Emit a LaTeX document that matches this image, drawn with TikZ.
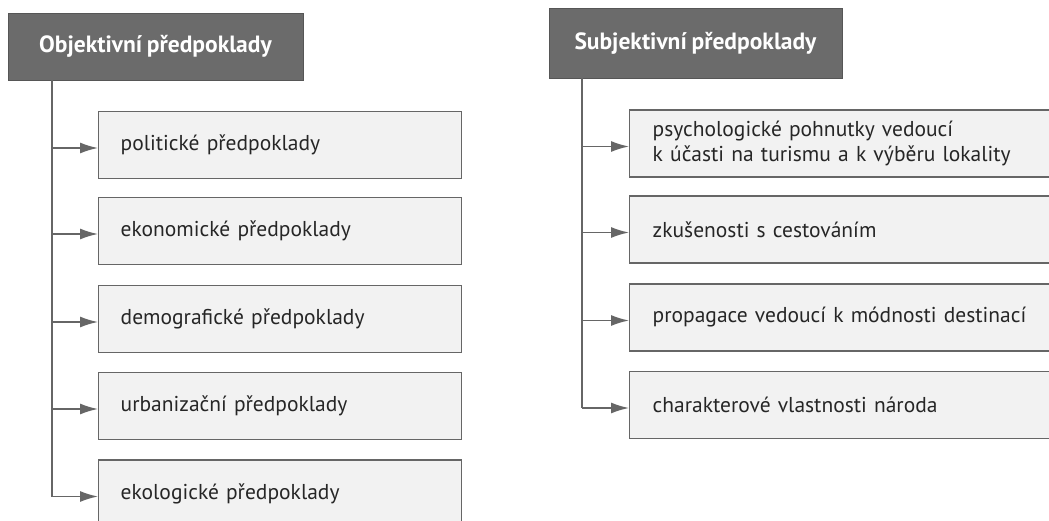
\documentclass[tikz,border=0pt]{standalone}
\usepackage{fontspec}
\setmainfont[WordSpace=0.8]{PT Sans}
\usetikzlibrary{arrows.meta,calc}
\definecolor{hdrgray}{HTML}{6B6B6B}
\definecolor{boxfill}{HTML}{F2F2F2}
\definecolor{linegray}{HTML}{666666}
\begin{document}
\begin{tikzpicture}[x=1pt,y=-1pt,
  hdr/.style={fill=hdrgray,draw=hdrgray!80!black,line width=0.8pt,text=white,font=\fontsize{23.5}{26}\selectfont\bfseries,inner sep=0pt},
  itembox/.style={fill=boxfill,draw=linegray,line width=1.4pt,anchor=west,minimum height=67pt,inner ysep=0pt,align=left,font=\fontsize{21.5}{25}\selectfont,text=black!85},
  conn/.style={draw=linegray,line width=1.6pt},
  arr/.style={conn,-{Latex[length=18pt,width=11pt]}}
]
\clip (0,0) rectangle (1049,521);
\fill[white] (0,0) rectangle (1049,521);
% left column
\node[hdr,minimum width=295pt,minimum height=67pt] (hL) at (155.5,46.5) {Objektivní předpoklady};
\coordinate (tL) at (52,80);
\foreach \n/\y/\t in {1/145/politické předpoklady,2/231/ekonomické předpoklady,3/319/demografické předpoklady,4/406/urbanizační předpoklady,5/493.5/ekologické předpoklady}{
  \node[itembox,minimum width=363pt,text width=319pt,inner xsep=22pt] (L\n) at (98,\y) {\t};
}
\draw[conn] (hL.south -| tL) -- ([yshift=-3pt]tL |- L5.west);
\foreach \n in {1,...,5}{
  \draw[arr] ([yshift=-3pt]tL |- L\n.west) -- ([yshift=-3pt]L\n.west);
}
% right column
\node[hdr,minimum width=293pt,minimum height=70pt] (hR) at (695.5,43) {Subjektivní předpoklady};
\coordinate (tR) at (582,78);
\node[itembox,minimum width=440pt,text width=394pt,inner xsep=23pt] (R1) at (629,143.5) {psychologické pohnutky vedoucí\\k účasti na turismu a k výběru lokality};
\node[itembox,minimum width=440pt,text width=394pt,inner xsep=23pt] (R2) at (629,229.5) {zkušenosti s cestováním};
\node[itembox,minimum width=440pt,text width=394pt,inner xsep=23pt] (R3) at (629,317.5) {propagace vedoucí k módnosti destinací};
\node[itembox,minimum width=440pt,text width=394pt,inner xsep=23pt] (R4) at (629,405) {charakterové vlastnosti národa};
\draw[conn] (hR.south -| tR) -- ([yshift=-3pt]tR |- R4.west);
\foreach \n in {1,...,4}{
  \draw[arr] ([yshift=-3pt]tR |- R\n.west) -- ([yshift=-3pt]R\n.west);
}
\end{tikzpicture}
\end{document}
